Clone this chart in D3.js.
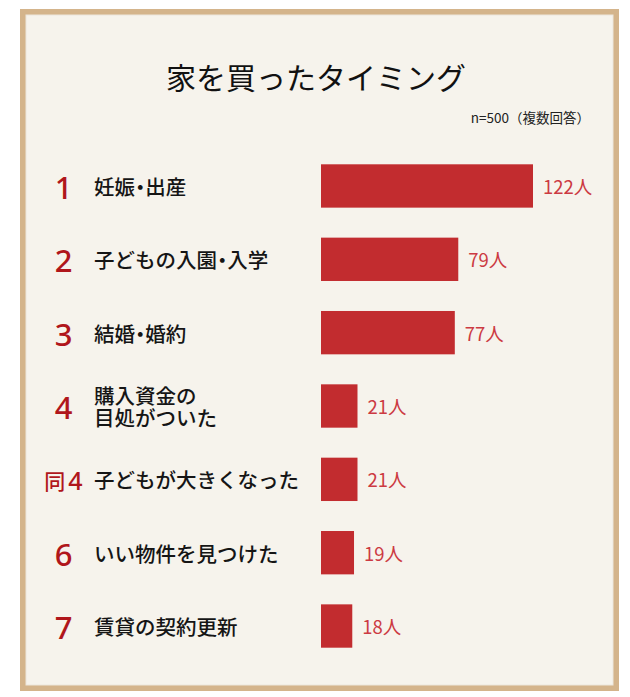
<!DOCTYPE html>
<html>
<head>
<meta charset="utf-8">
<script src="https://cdn.jsdelivr.net/npm/d3@7/dist/d3.min.js"></script>
<style>
  html, body { margin: 0; padding: 0; background: #ffffff; }
  svg { display: block; }
  .dot { font-feature-settings: "halt" 1; }
</style>
</head>
<body>
<script>
// ---- data ----
const title = "家を買ったタイミング";
const note = "n=500（複数回答）";
const ranks = ["1", "2", "3", "4", "同4", "6", "7"];
const categories = [
  "妊娠・出産",
  "子どもの入園・入学",
  "結婚・婚約",
  "購入資金の\n目処がついた",
  "子どもが大きくなった",
  "いい物件を見つけた",
  "賃貸の契約更新"
];
const values = [122, 79, 77, 21, 21, 19, 18];
const unit = "人";

// ---- layout ----
const W = 630, H = 697;
const jp = "'Noto Sans CJK JP', 'Noto Sans', sans-serif";

const svg = d3.select("body").append("svg")
  .attr("width", W).attr("height", H);

// frame
svg.append("rect").attr("x", 20).attr("y", 9).attr("width", 599).attr("height", 682)
  .attr("fill", "#d4b48b");
svg.append("rect").attr("x", 26).attr("y", 15).attr("width", 587).attr("height", 670)
  .attr("fill", "#f6f3ec").attr("stroke", "#ece6dc").attr("stroke-width", 1);

// title
svg.append("text")
  .attr("x", 316).attr("y", 76)
  .attr("text-anchor", "middle").attr("dominant-baseline", "central")
  .attr("font-family", jp).attr("font-size", 30).attr("font-weight", 400)
  .attr("fill", "#111")
  .text(title);

svg.append("text")
  .attr("x", 590).attr("y", 117)
  .attr("text-anchor", "end").attr("dominant-baseline", "central")
  .attr("font-family", jp).attr("font-size", 13.5).attr("font-weight", 400)
  .attr("fill", "#222")
  .text(note);

// scales
const idx = d3.range(values.length);
const y = d3.scaleBand().domain(idx).range([149.3, 662.7])
  .paddingInner(0.409).paddingOuter(0.2045);
const x = d3.scaleLinear().domain([0, d3.max(values)]).range([321, 533]);

const rows = svg.append("g").selectAll("g").data(idx).join("g");

// bars
rows.append("rect")
  .attr("x", x(0))
  .attr("y", i => y(i))
  .attr("width", i => x(values[i]) - x(0))
  .attr("height", y.bandwidth())
  .attr("fill", "#c22c2f");

// value labels
rows.append("text")
  .attr("x", i => x(values[i]) + 10)
  .attr("y", i => y(i) + y.bandwidth() / 2)
  .attr("dominant-baseline", "central")
  .attr("font-family", jp).attr("font-size", 18.5).attr("font-weight", 400)
  .attr("fill", "#cc3a42")
  .text(i => values[i] + unit);

// rank numbers
rows.each(function(i) {
  const g = d3.select(this);
  const r = ranks[i];
  const t = g.append("text")
    .attr("x", 63.5)
    .attr("y", y(i) + y.bandwidth() / 2 + 1)
    .attr("text-anchor", "middle").attr("dominant-baseline", "central")
    .attr("font-family", "'Noto Sans', sans-serif").attr("font-weight", 500)
    .attr("fill", "#b0161b");
  if (r.length > 1) {
    t.append("tspan").attr("font-family", jp).attr("font-size", 21).text(r.slice(0, r.length - 1));
    t.append("tspan").attr("font-size", 25).attr("dx", 3).text(r.slice(-1));
  } else {
    t.attr("font-size", 31).text(r);
  }
});

// category labels (middle dot rendered with half-width alternate)
const fs = 20.5;
rows.each(function(i) {
  const g = d3.select(this);
  const lines = categories[i].split("\n");
  const cy = y(i) + y.bandwidth() / 2;
  const lh = 22.5;
  lines.forEach((ln, k) => {
    const t = g.append("text")
      .attr("x", 94)
      .attr("y", cy + (k - (lines.length - 1) / 2) * lh)
      .attr("font-family", jp).attr("font-size", fs).attr("font-weight", 500)
      .attr("fill", "#151515")
      .attr("dominant-baseline", "central");
    ln.split(/(・)/).filter(s => s.length).forEach(p => {
      const ts = t.append("tspan").text(p);
      if (p === "・") ts.attr("class", "dot");
    });
  });
});
</script>
</body>
</html>
